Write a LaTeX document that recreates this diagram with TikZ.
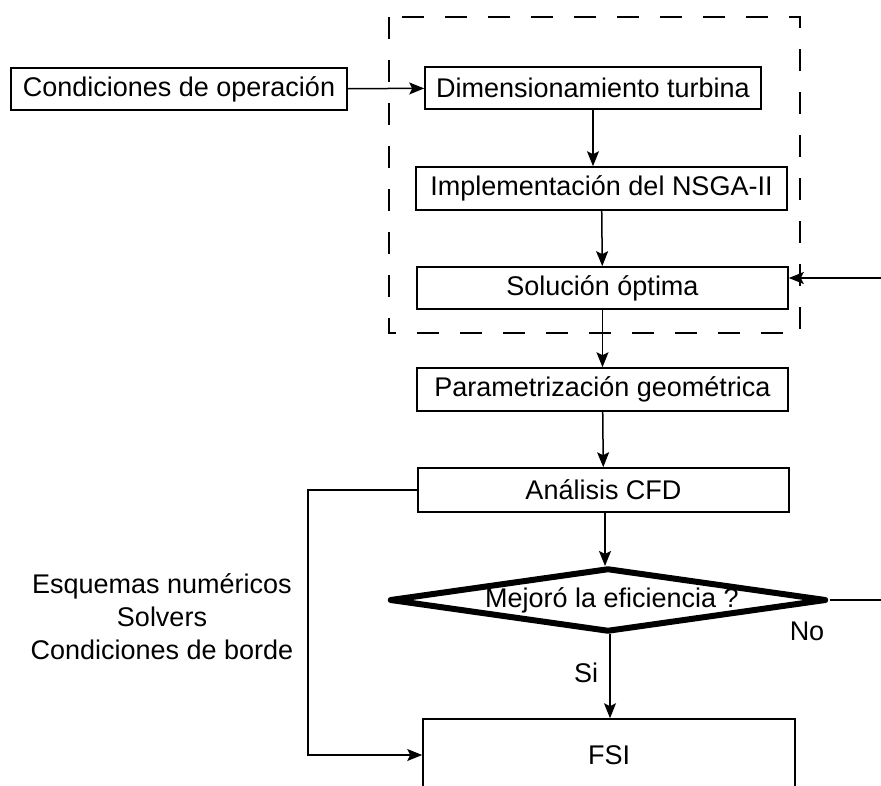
\documentclass[tikz,border=0pt]{standalone}
\usepackage{fontspec}
\setmainfont{Liberation Sans}
\usetikzlibrary{shapes.geometric,arrows.meta}

\tikzset{
  stage/.style={draw, line width=1.6pt, minimum width=371pt, minimum height=43pt, inner sep=0pt},
  decision/.style={diamond, draw, line width=6pt, line join=round, minimum width=437pt, minimum height=64pt, inner sep=0pt},
  link/.style={-{Stealth[length=15pt,width=12pt,inset=3pt]}, line width=1.5pt},
  group/.style={draw, line width=2.8pt, dash pattern=on 22pt off 21pt},
}

\begin{document}
\begin{tikzpicture}[x=1pt, y=-1pt, font=\fontsize{27}{33}\selectfont]
    \clip (0,0) rectangle (881,785);

    % optimisation block
    \draw[group] (389,17) rectangle (800,333);

    \node (cond) at (179, 89) [stage, minimum width=336pt, minimum height=42pt] {Condiciones de operación};
    \node (dim) at (593, 88) [stage, minimum width=336pt, minimum height=42pt] {Dimensionamiento turbina};
    \node (impl) at (601.5, 188.5) [stage] {Implementación del NSGA-II};
    \node (sol) at (602.5, 288) [stage, minimum height=42pt] {Solución óptima};

    \node (param) at (602.5, 389.5) [stage] {Parametrización geométrica};
    \node (cfd) at (603.5, 490) [stage, minimum height=44pt] {Análisis CFD};

    \node (dec) at (608, 600) [decision] {};
    \node (dectext) at (612, 600) {Mejoró la eficiencia ?};

    \node (fsi) at (609, 755) [stage, minimum width=372pt, minimum height=72pt] {FSI};

    \node (solvers) at (162, 617) [align=center] {Esquemas numéricos\\Solvers\\Condiciones de borde};
    \node (yes) at (586, 673) {Si};
    \node (no) at (807, 631) {No};

    \coordinate (side) at (308, 490);
    \coordinate (ret) at (886, 278);

    \draw[link] (cond) -- (dim);
    \draw[link] (dim.south) -- (dim.south |- impl.north);
    \draw[link] (impl) -- (sol);
    \draw[link] (sol) -- (param);
    \draw[link] (param) -- (cfd);
    \draw[link] (cfd.south -| 605, 0) -- (605, 566);
    \draw[link] (610, 634) -- (fsi.north -| 610, 0);

    \draw[link] (cfd.west) -- (side) |- (fsi.west);
    \draw[link] (dec.east) -| (ret) -- (ret -| sol.east);

\end{tikzpicture}
\end{document}
